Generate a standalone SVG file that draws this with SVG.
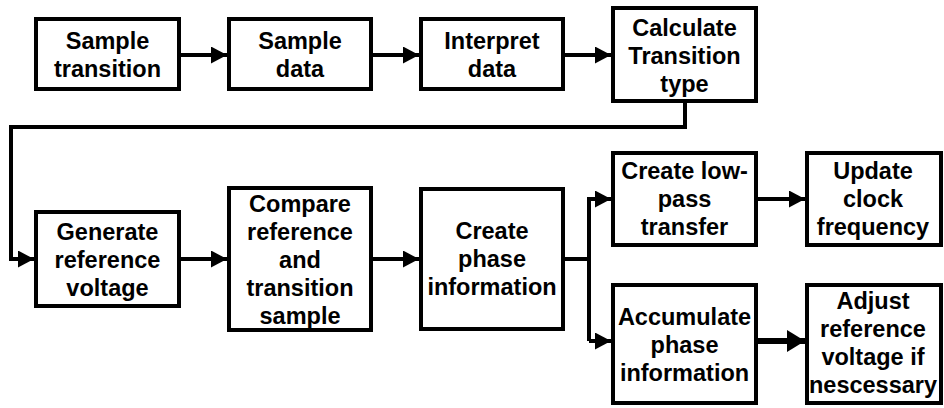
<svg xmlns="http://www.w3.org/2000/svg" width="944" height="408" viewBox="0 0 944 408">
<style>
.box{fill:#fff;stroke:#000;stroke-width:4}
.t{font-family:"Liberation Sans",Arial,sans-serif;font-weight:bold;font-size:23.5px;text-anchor:middle;fill:#000}
.c{fill:none;stroke:#000;stroke-width:4}
.ct{fill:none;stroke:#000;stroke-width:6}
</style>
<defs>
<marker id="ah" markerUnits="userSpaceOnUse" markerWidth="16" markerHeight="17" refX="16" refY="8.5" orient="auto"><path d="M0,0 L16,8.5 L0,17 z" fill="#000"/></marker>
<marker id="ahb" markerUnits="userSpaceOnUse" markerWidth="18" markerHeight="22" refX="18" refY="11" orient="auto"><path d="M0,0 L18,11 L0,22 z" fill="#000"/></marker>
</defs>
<g id="connectors">
<path class="c" d="M181,55 H227" marker-end="url(#ah)"/>
<path class="c" d="M373,55 H419" marker-end="url(#ah)"/>
<path class="c" d="M565,55 H611" marker-end="url(#ah)"/>
<path class="c" d="M685,103 V127 H11 V259 H34" marker-end="url(#ah)"/>
<path class="c" d="M181,259 H227" marker-end="url(#ah)"/>
<path class="c" d="M373,259 H419" marker-end="url(#ah)"/>
<path class="c" d="M565,259 H589"/>
<path class="c" d="M589,341 V199 H611" marker-end="url(#ah)"/>
<path class="c" d="M589,341 H611" marker-end="url(#ah)"/>
<path class="c" d="M758,199 H805" marker-end="url(#ah)"/>
<path class="ct" d="M758,341 H805" marker-end="url(#ahb)"/>
</g>
<g id="n1"><rect class="box" x="36" y="19" width="143" height="70"/><text class="t" x="107.5"><tspan x="107.5" y="49">Sample</tspan><tspan x="107.5" y="77">transition</tspan></text></g>
<g id="n2"><rect class="box" x="229" y="19" width="142" height="70"/><text class="t"><tspan x="300" y="49">Sample</tspan><tspan x="300" y="77">data</tspan></text></g>
<g id="n3"><rect class="box" x="421" y="19" width="142" height="70"/><text class="t"><tspan x="492" y="49">Interpret</tspan><tspan x="492" y="77">data</tspan></text></g>
<g id="n4"><rect class="box" x="613" y="8" width="143" height="93"/><text class="t"><tspan x="684.5" y="35.5">Calculate</tspan><tspan x="684.5" y="63.5">Transition</tspan><tspan x="684.5" y="91.5">type</tspan></text></g>
<g id="n5"><rect class="box" x="36" y="212" width="143" height="94"/><text class="t"><tspan x="107.5" y="240">Generate</tspan><tspan x="107.5" y="268">reference</tspan><tspan x="107.5" y="296">voltage</tspan></text></g>
<g id="n6"><rect class="box" x="229" y="188" width="142" height="142"/><text class="t"><tspan x="300" y="211.5">Compare</tspan><tspan x="300" y="239.5">reference</tspan><tspan x="300" y="267.5">and</tspan><tspan x="300" y="295.5">transition</tspan><tspan x="300" y="323.5">sample</tspan></text></g>
<g id="n7"><rect class="box" x="421" y="189" width="142" height="140"/><text class="t"><tspan x="492" y="239">Create</tspan><tspan x="492" y="267">phase</tspan><tspan x="492" y="295">information</tspan></text></g>
<g id="n8"><rect class="box" x="613" y="153" width="143" height="92"/><text class="t"><tspan x="684.5" y="179">Create low-</tspan><tspan x="684.5" y="207">pass</tspan><tspan x="684.5" y="235">transfer</tspan></text></g>
<g id="n9"><rect class="box" x="807" y="153" width="134" height="92"/><text class="t"><tspan x="873" y="179">Update</tspan><tspan x="873" y="207">clock</tspan><tspan x="873" y="235">frequency</tspan></text></g>
<g id="n10"><rect class="box" x="613" y="285" width="143" height="118"/><text class="t"><tspan x="684.5" y="324.5">Accumulate</tspan><tspan x="684.5" y="352.5">phase</tspan><tspan x="684.5" y="380.5">information</tspan></text></g>
<g id="n11"><rect class="box" x="807" y="285" width="134" height="118"/><text class="t"><tspan x="873" y="309">Adjust</tspan><tspan x="873" y="337">reference</tspan><tspan x="873" y="365">voltage if</tspan><tspan x="873" y="393">nescessary</tspan></text></g>
</svg>
